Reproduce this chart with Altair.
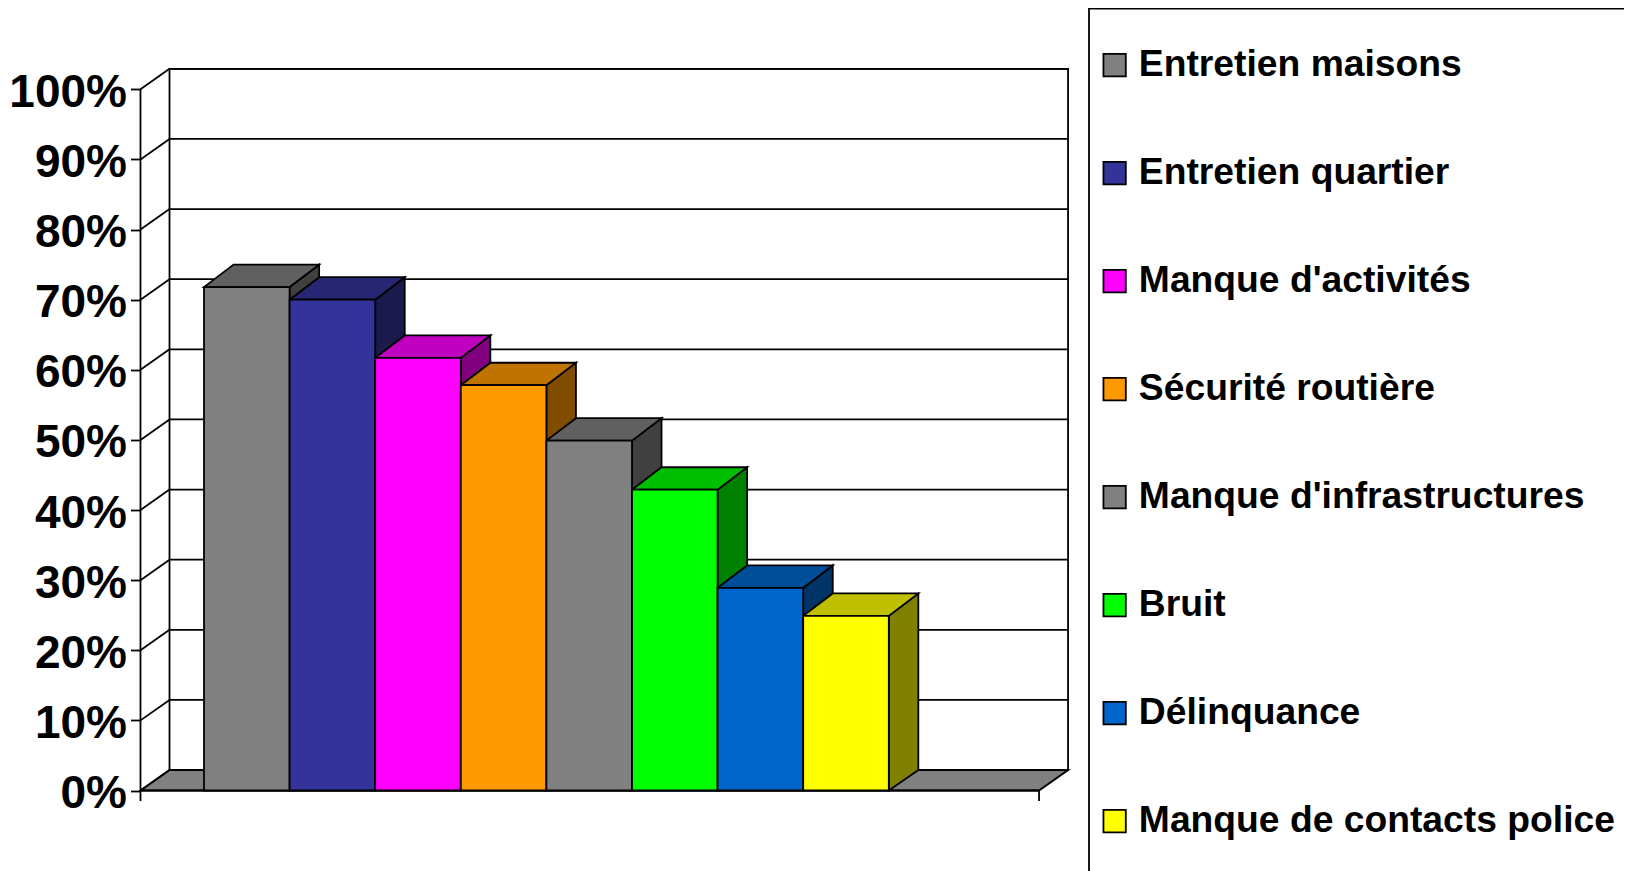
import altair as alt
import pandas as pd

names = ["Entretien maisons", "Entretien quartier", "Manque d'activités", "Sécurité routière",
         "Manque d'infrastructures", "Bruit", "Délinquance", "Manque de contacts police"]
values = [71.8, 70, 61.7, 57.8, 49.9, 42.9, 28.9, 24.9]
front_colors = ["#808080", "#333399", "#FF00FF", "#FF9900", "#808080", "#00FF00", "#0066CC", "#FFFF00"]
top_colors = ["#606060", "#262673", "#BF00BF", "#BF7300", "#606060", "#00BF00", "#004D99", "#BFBF00"]
side_colors = ["#404040", "#1A1A4D", "#800080", "#804D00", "#404040", "#008000", "#003366", "#808000"]
ticks = list(range(0, 101, 10))

W, H = 1616, 863
UX, UY = 85.6, 7.012         # px per bar, px per percentage point
X0_PX, Y0_PX = 204.0, 790.5  # page position of first bar's left edge / of 0 %
DX, DY = 0.339, 2.92         # depth of the fake 3-D, in data units
BAR_DX, BAR_TOP_DY = 0.345, 3.2
AXIS_X, FLOOR_END = -0.742, 9.755
LW = 1.8
FONT = "Liberation Sans"

xs = alt.Scale(domain=[(8 - X0_PX) / UX, (8 + W - X0_PX) / UX], nice=False, zero=False)
ys = alt.Scale(domain=[(Y0_PX - 8 - H) / UY, (Y0_PX - 8) / UY], nice=False, zero=False)
y_axis = alt.Axis(
    values=ticks, labelExpr="datum.value + '%'", title=None, domain=False, grid=False,
    tickSize=10, tickWidth=LW, tickColor="black", labelPadding=4, offset=-132.5, labelOffset=3,
    labelFont=FONT, labelFontSize=46, labelFontWeight="bold", labelColor="black")
X = lambda f: alt.X(f, type="quantitative", scale=xs, axis=None)
Y = lambda f: alt.Y(f, type="quantitative", scale=ys, axis=y_axis)

fronts = pd.DataFrame({"name": names, "l": range(8), "r": range(1, 9), "v": values, "b": [0] * 8})

tops, sides = [], []
for i, v in enumerate(values):
    tops += [dict(bar=i, c=top_colors[i], y=v, a=i, b=i + 1),
             dict(bar=i, c=top_colors[i], y=v + BAR_TOP_DY, a=i + BAR_DX, b=i + 1 + BAR_DX)]
    sides += [dict(bar=i, c=side_colors[i], x=i + 1, lo=0, hi=v),
              dict(bar=i, c=side_colors[i], x=i + 1 + BAR_DX, lo=DY, hi=v + BAR_TOP_DY)]

stroke = dict(stroke="black", strokeWidth=LW)

# legend frame
frame = alt.Chart(pd.DataFrame({"a": [0]})).mark_rect(fill="white", **stroke).encode(
    x=alt.value(1081), x2=alt.value(1618), y=alt.value(0.5), y2=alt.value(900))

# back wall
wall = alt.Chart(pd.DataFrame({"a": [AXIS_X + DX], "b": [FLOOR_END + DX], "c": [DY], "d": [100 + DY]})).mark_rect(
    fill="white", **stroke).encode(x=X("a"), x2="b", y=Y("c"), y2="d")

# floor
floor_df = pd.DataFrame({"y": [0, DY], "a": [AXIS_X, AXIS_X + DX], "b": [FLOOR_END, FLOOR_END + DX]})
floor = alt.Chart(floor_df).mark_area(orient="horizontal", fill="#808080", **stroke).encode(
    y=Y("y"), x=X("a"), x2="b")

# grid on wall and left side wall
grid_df = pd.DataFrame({"p": [t + DY for t in ticks if t > 0], "a": AXIS_X + DX, "b": FLOOR_END + DX})
grid = alt.Chart(grid_df).mark_rule(color="black", strokeWidth=LW).encode(x=X("a"), x2="b", y=Y("p"))
slant_df = pd.DataFrame({"a": AXIS_X, "b": AXIS_X + DX, "p": ticks, "q": [t + DY for t in ticks]})
slant = alt.Chart(slant_df).mark_rule(color="black", strokeWidth=LW).encode(x=X("a"), x2="b", y=Y("p"), y2="q")

# front axis line
axis_df = pd.DataFrame({"a": [AXIS_X], "lo": [-1.5], "hi": [100]})
axis_line = alt.Chart(axis_df).mark_rule(color="black", strokeWidth=LW).encode(x=X("a"), y=Y("lo"), y2="hi")

# front floor edge and end tick
edge_df = pd.DataFrame({"a": [AXIS_X], "b": [FLOOR_END], "p": [0]})
edge = alt.Chart(edge_df).mark_rule(color="black", strokeWidth=LW).encode(x=X("a"), x2="b", y=Y("p"))
end_tick = alt.Chart(pd.DataFrame({"a": [FLOOR_END], "lo": [-1.5], "hi": [0]})).mark_rule(
    color="black", strokeWidth=LW).encode(x=X("a"), y=Y("lo"), y2="hi")

side_layer = alt.Chart(pd.DataFrame(sides)).mark_area(orient="vertical", **stroke).encode(
    x=X("x"), y=Y("lo"), y2="hi", detail="bar:N", fill=alt.Fill("c:N", scale=None))
top_layer = alt.Chart(pd.DataFrame(tops)).mark_area(orient="horizontal", **stroke).encode(
    y=Y("y"), x=X("a"), x2="b", detail="bar:N", fill=alt.Fill("c:N", scale=None))
front_layer = alt.Chart(fronts).mark_rect(**stroke).encode(
    x=X("l"), x2="r", y=Y("b"), y2="v",
    fill=alt.Fill("name:N", scale=alt.Scale(domain=names, range=front_colors), legend=alt.Legend(
        title=None, orient="none", legendX=1088, legendY=38.5, symbolType="square", symbolSize=500,
        symbolStrokeColor="black", symbolStrokeWidth=LW, symbolOpacity=1, labelFont=FONT,
        labelFontSize=37.25, labelFontWeight="bold", labelColor="black", labelOffset=5.6,
        rowPadding=70.0, labelLimit=600, padding=0)))

chart = alt.layer(frame, wall, floor, grid, slant, axis_line, edge, end_tick,
                  side_layer, top_layer, front_layer).resolve_scale(fill="independent").properties(
    width=W, height=H, padding=0, autosize=alt.AutoSizeParams(type="none")
).configure_view(stroke=None)

chart.save("out.html", embed_options={"renderer": "svg", "actions": False})
